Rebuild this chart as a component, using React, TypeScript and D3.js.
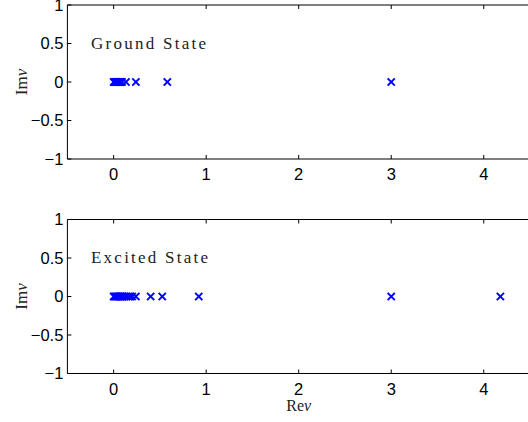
import React from "react";
import * as d3 from "d3";

const groundRe = [0, 0.01, 0.02, 0.03, 0.04, 0.05, 0.06, 0.07, 0.08, 0.09, 0.133, 0.24, 0.58, 3.0];
const groundIm = groundRe.map(() => 0);
const excitedRe = [0, 0.01, 0.02, 0.03, 0.04, 0.05, 0.06, 0.07, 0.08, 0.09, 0.1, 0.12, 0.14, 0.16, 0.18, 0.2, 0.24, 0.4, 0.525, 0.92, 3.0, 4.18];
const excitedIm = excitedRe.map(() => 0);
const xTicks = [0, 1, 2, 3, 4];
const yTicks = [-1, -0.5, 0, 0.5, 1];
const yTickLabels = ["\u22121", "\u22120.5", "0", "0.5", "1"];

const W = 528, H = 422;
const x = d3.scaleLinear().domain([-0.5, 4.5]).range([67.4, 530]);
const sans = "Liberation Sans, Arial, Helvetica, sans-serif";
const serif = "Liberation Serif, Times New Roman, serif";

function Panel({ top, bottom, re, im, label, labelLen }: { top: number; bottom: number; re: number[]; im: number[]; label: string; labelLen: number }) {
  const y = d3.scaleLinear().domain([-1, 1]).range([bottom, top]);
  const L = x.range()[0], R = x.range()[1];
  const tl = 4;
  const s = 3.6;
  return (
    <g>
      <rect x={L} y={top} width={R - L} height={bottom - top} fill="white" />
      {xTicks.map((t) => (
        <g key={"x" + t}>
          <line x1={x(t)} x2={x(t)} y1={bottom} y2={bottom - tl} stroke="#000" strokeWidth={1} />
          <line x1={x(t)} x2={x(t)} y1={top} y2={top + tl} stroke="#000" strokeWidth={1} />
          <text x={x(t)} y={bottom + 21} textAnchor="middle" fontFamily={sans} fontSize={16.5} fill="#000">{t}</text>
        </g>
      ))}
      {yTicks.map((t, i) => (
        <g key={"y" + t}>
          <line x1={L} x2={L + tl} y1={y(t)} y2={y(t)} stroke="#000" strokeWidth={1} />
          <text x={L - 4} y={y(t) + 5.8} textAnchor="end" fontFamily={sans} fontSize={16.5} fill="#000">{yTickLabels[i]}</text>
        </g>
      ))}
      <line x1={L} x2={R} y1={top} y2={top} stroke="#000" strokeWidth={1} />
      <line x1={L} x2={R} y1={bottom} y2={bottom} stroke="#000" strokeWidth={1.2} />
      <line x1={L} x2={L} y1={top} y2={bottom} stroke="#000" strokeWidth={1} />
      {re.map((r, i) => (
        <g key={"p" + i} stroke="#0000ff" strokeWidth={2}>
          <line x1={x(r) - s} x2={x(r) + s} y1={y(im[i]) - s} y2={y(im[i]) + s} />
          <line x1={x(r) - s} x2={x(r) + s} y1={y(im[i]) + s} y2={y(im[i]) - s} />
        </g>
      ))}
      <text x={91} y={y(0.5) + 5} fontFamily={serif} fontSize={17} fill="#222" textLength={labelLen} lengthAdjust="spacing">{label}</text>
      <text transform={`translate(${27},${y(0)}) rotate(-90)`} textAnchor="middle" fontFamily={serif} fontSize={17} fill="#222">Im<tspan fontStyle="italic">{"\u03bd"}</tspan></text>
    </g>
  );
}

export default function App() {
  return (
    <div style={{ position: "fixed", left: 0, top: 0 }}>
      <svg width={W} height={H} style={{ display: "block", background: "white" }}>
        <Panel top={5} bottom={159} re={groundRe} im={groundIm} label="Ground State" labelLen={115} />
        <Panel top={219.5} bottom={373.5} re={excitedRe} im={excitedIm} label="Excited State" labelLen={117} />
        <text x={x(2)} y={411} textAnchor="middle" fontFamily={serif} fontSize={16} fill="#222">Re<tspan fontStyle="italic">{"\u03bd"}</tspan></text>
      </svg>
    </div>
  );
}
